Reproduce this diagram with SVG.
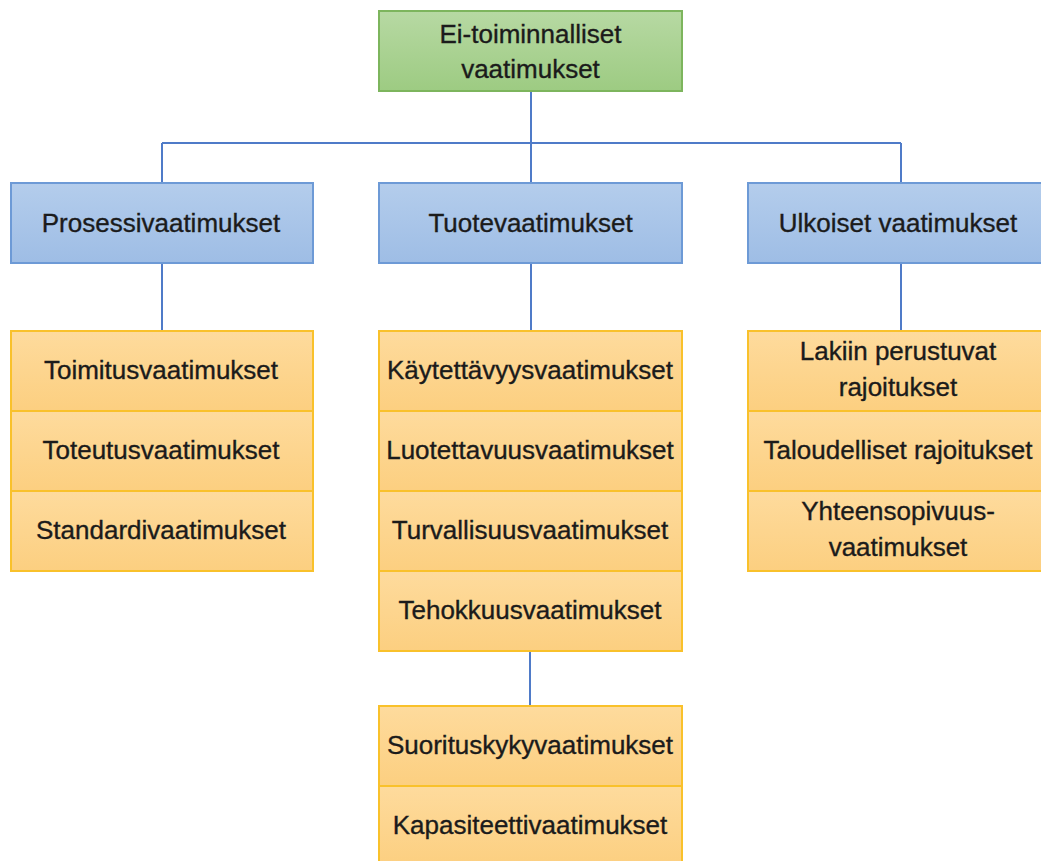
<svg xmlns="http://www.w3.org/2000/svg" width="1041" height="861" viewBox="0 0 1041 861">
  <defs>
    <linearGradient id="gGreen" x1="0" y1="0" x2="0" y2="1">
      <stop offset="0" stop-color="#b7d9a3"/>
      <stop offset="1" stop-color="#9dcb82"/>
    </linearGradient>
    <linearGradient id="gBlue" x1="0" y1="0" x2="0" y2="1">
      <stop offset="0" stop-color="#b4cdec"/>
      <stop offset="1" stop-color="#9ebde5"/>
    </linearGradient>
    <linearGradient id="gOrange" x1="0" y1="0" x2="0" y2="1">
      <stop offset="0" stop-color="#fedb9d"/>
      <stop offset="1" stop-color="#fccf80"/>
    </linearGradient>
    <style>
      .green { fill: url(#gGreen); stroke: #7db55d; stroke-width: 2; }
      .blue { fill: url(#gBlue); stroke: #6d9ad6; stroke-width: 2; }
      .orange { fill: url(#gOrange); stroke: #f9c12b; stroke-width: 2; }
      .lbl { font-family: "Liberation Sans", Arial, sans-serif; font-size: 26px; fill: #1b1b1b; stroke: #1b1b1b; stroke-width: 0.35; text-anchor: middle; }
      .conn { stroke: #4f7bc8; stroke-width: 2; fill: none; }
    </style>
  </defs>

  <rect width="1041" height="861" fill="#ffffff"/>

  <!-- connectors -->
  <g id="connectors">
    <path class="conn" d="M531 91 V143 M162 143 H901 M162 143 V183 M531 143 V183 M901 143 V183"/>
    <path class="conn" d="M162 263 V331"/>
    <path class="conn" d="M531 263 V331"/>
    <path class="conn" d="M901 263 V331"/>
    <path class="conn" d="M530 651 V706"/>
  </g>

  <!-- root -->
  <g id="root">
    <rect class="green" x="379" y="11" width="303" height="80"/>
    <text class="lbl" x="530.5" y="43">Ei-toiminnalliset</text>
    <text class="lbl" x="530.5" y="78">vaatimukset</text>
  </g>

  <!-- second level -->
  <g id="prosessi">
    <rect class="blue" x="11" y="183" width="302" height="80"/>
    <text class="lbl" x="161" y="232">Prosessivaatimukset</text>
  </g>
  <g id="tuote">
    <rect class="blue" x="379" y="183" width="303" height="80"/>
    <text class="lbl" x="530.5" y="232">Tuotevaatimukset</text>
  </g>
  <g id="ulkoiset">
    <rect class="blue" x="748" y="183" width="302" height="80"/>
    <text class="lbl" x="898" y="232">Ulkoiset vaatimukset</text>
  </g>

  <!-- process requirements -->
  <g id="toimitus">
    <rect class="orange" x="11" y="331" width="302" height="80"/>
    <text class="lbl" x="161" y="379">Toimitusvaatimukset</text>
  </g>
  <g id="toteutus">
    <rect class="orange" x="11" y="411" width="302" height="80"/>
    <text class="lbl" x="161" y="459">Toteutusvaatimukset</text>
  </g>
  <g id="standardi">
    <rect class="orange" x="11" y="491" width="302" height="80"/>
    <text class="lbl" x="161" y="539">Standardivaatimukset</text>
  </g>

  <!-- product requirements -->
  <g id="kaytettavyys">
    <rect class="orange" x="379" y="331" width="303" height="80"/>
    <text class="lbl" x="530" y="379">Käytettävyysvaatimukset</text>
  </g>
  <g id="luotettavuus">
    <rect class="orange" x="379" y="411" width="303" height="80"/>
    <text class="lbl" x="530" y="459">Luotettavuusvaatimukset</text>
  </g>
  <g id="turvallisuus">
    <rect class="orange" x="379" y="491" width="303" height="80"/>
    <text class="lbl" x="530" y="539">Turvallisuusvaatimukset</text>
  </g>
  <g id="tehokkuus">
    <rect class="orange" x="379" y="571" width="303" height="80"/>
    <text class="lbl" x="530" y="619">Tehokkuusvaatimukset</text>
  </g>
  <g id="suorituskyky">
    <rect class="orange" x="379" y="706" width="303" height="80"/>
    <text class="lbl" x="530" y="754">Suorituskykyvaatimukset</text>
  </g>
  <g id="kapasiteetti">
    <rect class="orange" x="379" y="786" width="303" height="80"/>
    <text class="lbl" x="530" y="834">Kapasiteettivaatimukset</text>
  </g>

  <!-- external requirements -->
  <g id="laki">
    <rect class="orange" x="748" y="331" width="302" height="80"/>
    <text class="lbl" x="898" y="360">Lakiin perustuvat</text>
    <text class="lbl" x="898" y="396">rajoitukset</text>
  </g>
  <g id="talous">
    <rect class="orange" x="748" y="411" width="302" height="80"/>
    <text class="lbl" x="898" y="459">Taloudelliset rajoitukset</text>
  </g>
  <g id="yhteensopivuus">
    <rect class="orange" x="748" y="491" width="302" height="80"/>
    <text class="lbl" x="898" y="520">Yhteensopivuus-</text>
    <text class="lbl" x="898" y="556">vaatimukset</text>
  </g>
</svg>
